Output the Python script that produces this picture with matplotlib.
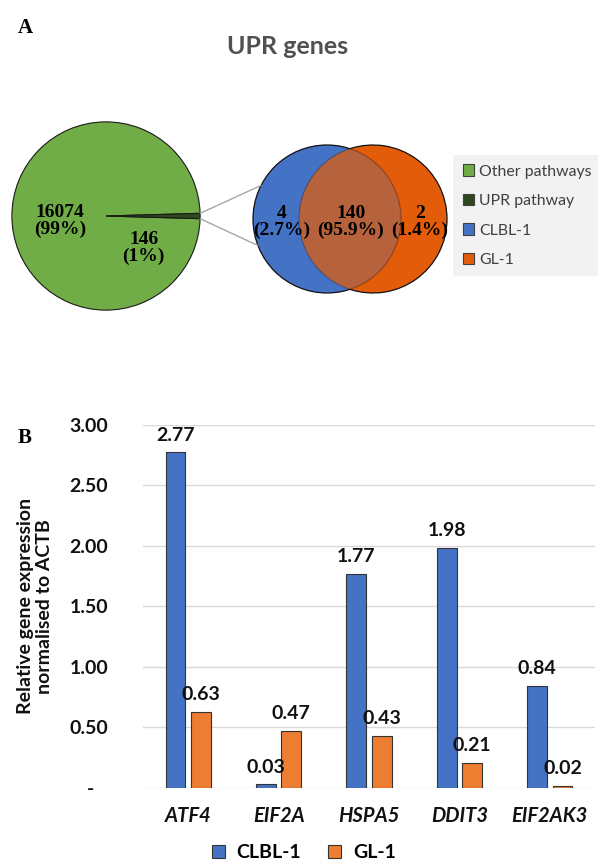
import numpy as np
import matplotlib
matplotlib.use("Agg")
import matplotlib.pyplot as plt
from matplotlib.patches import Circle, Arc, Patch, ConnectionPatch

# ---------------- data ----------------
pie_labels = ["Other pathways", "UPR pathway"]
pie_values = [16074, 146]
pie_pct = ["99%", "1%"]

venn_sets = ["CLBL-1", "GL-1"]
venn_values = [4, 140, 2]          # CLBL-1 only, both, GL-1 only
venn_pct = ["2.7%", "95.9%", "1.4%"]

genes = ["ATF4", "EIF2A", "HSPA5", "DDIT3", "EIF2AK3"]
clbl1 = [2.77, 0.03, 1.77, 1.98, 0.84]
gl1 = [0.63, 0.47, 0.43, 0.21, 0.02]
yticks = [0, 0.5, 1.0, 1.5, 2.0, 2.5, 3.0]
ytick_labels = ["-   ", "0.50", "1.00", "1.50", "2.00", "2.50", "3.00"]

# ---------------- style ----------------
W, H = 598, 861
SANS = ["Lato", "DejaVu Sans"]
SERIF = ["Liberation Serif", "DejaVu Serif"]
C_GREEN = "#70AD47"
C_DKGREEN = "#2B4A1C"
C_BLUE = "#4472C4"
C_ORANGE_V = "#E35C0A"
C_ORANGE_B = "#ED7D31"

fig = plt.figure(figsize=(W / 100, H / 100), dpi=100)
fig.patch.set_facecolor("white")

def fx(px):
    return px / W

def fy(py):
    return 1 - py / H

# panel labels and title
fig.text(fx(25), fy(28), "A", family=SERIF, weight="bold", fontsize=15, ha="center", va="center")
fig.text(fx(25), fy(438), "B", family=SERIF, weight="bold", fontsize=15, ha="center", va="center")
fig.text(fx(288), fy(46), "UPR genes", family=SANS, weight="bold", fontsize=18,
         color="#505050", ha="center", va="center")

# ---------------- pie ----------------
pcx, pcy, pr = 106, 216, 96
ax_pie = fig.add_axes([fx(pcx - pr), fy(pcy + pr), 2 * pr / W, 2 * pr / H])
ax_pie.set_aspect("equal")
half = pie_values[1] / sum(pie_values) * 360 / 2
wedges, _ = ax_pie.pie(pie_values, colors=[C_GREEN, C_DKGREEN], startangle=half,
                       counterclock=True, radius=1,
                       wedgeprops=dict(edgecolor="#1a1a1a", linewidth=0.8))
ax_pie.set_xlim(-1.02, 1.02)
ax_pie.set_ylim(-1.02, 1.02)
ax_pie.axis("off")
ax_pie.text(-0.49, -0.05, f"{pie_values[0]}\n({pie_pct[0]})", family=SERIF, weight="bold",
            fontsize=14, ha="center", va="center", linespacing=1.0)
ax_pie.text(0.40, -0.34, f"{pie_values[1]}\n({pie_pct[1]})", family=SERIF, weight="bold",
            fontsize=14, ha="center", va="center", linespacing=1.0)

# ---------------- venn ----------------
vx0, vx1, vy0, vy1 = 240, 460, 130, 310
ax_v = fig.add_axes([fx(vx0), fy(vy1), (vx1 - vx0) / W, (vy1 - vy0) / H])
ax_v.set_xlim(vx0, vx1)
ax_v.set_ylim(vy1, vy0)
ax_v.axis("off")
r = 74
bcx, ocx, vcy = 327, 373, 219
blue = Circle((bcx, vcy), r, facecolor=C_BLUE, edgecolor="#111111", lw=0.9)
ax_v.add_patch(blue)
orange = Circle((ocx, vcy), r, facecolor=C_ORANGE_V, edgecolor="none")
ax_v.add_patch(orange)
over = Circle((bcx, vcy), r, facecolor=C_BLUE, alpha=0.28, edgecolor="#000000", lw=0.9)
ax_v.add_patch(over)
over.set_clip_path(orange)
d = (ocx - bcx) / 2
ang = np.degrees(np.arctan2(np.sqrt(r ** 2 - d ** 2), -d))
ax_v.add_patch(Arc((ocx, vcy), 2 * r, 2 * r, theta1=-ang, theta2=ang, color="#111111", lw=0.9))
ax_v.add_patch(Arc((ocx, vcy), 2 * r, 2 * r, theta1=ang, theta2=360 - ang,
                   color="#000000", lw=0.9, alpha=0.25))
vlab_x = [282, 351, 420]
for xx, v, p in zip(vlab_x, venn_values, venn_pct):
    ax_v.text(xx, 222, f"{v}\n({p})", family=SERIF, weight="bold", fontsize=14,
              ha="center", va="center", linespacing=1.05)

# connectors
for a_pie, a_v in [(half, 153), (-half, 201)]:
    p1 = (np.cos(np.radians(a_pie)), np.sin(np.radians(a_pie)))
    p2 = (bcx + r * np.cos(np.radians(a_v)), vcy - r * np.sin(np.radians(a_v)))
    con = ConnectionPatch(xyA=p1, coordsA=ax_pie.transData, xyB=p2, coordsB=ax_v.transData,
                          color="#a6a6a6", lw=1.0)
    fig.add_artist(con)

# top legend
handles = [Patch(facecolor=c, edgecolor="#404040", lw=0.8) for c in [C_GREEN, C_DKGREEN, C_BLUE, C_ORANGE_V]]
leg = fig.legend(handles, pie_labels + venn_sets, loc="upper left",
                 bbox_to_anchor=(fx(453), fy(155)), frameon=True, fancybox=False,
                 facecolor="#f2f2f2", edgecolor="none", framealpha=1,
                 prop=dict(family=SANS, size=11.4), labelcolor="#404040",
                 handlelength=0.75, handleheight=0.75, handletextpad=0.3,
                 labelspacing=0.95, borderpad=0.6, borderaxespad=0)

# ---------------- bar chart ----------------
axl, axr, axt, axb = 143, 595, 424.5, 788
ax = fig.add_axes([fx(axl), fy(axb), (axr - axl) / W, (axb - axt) / H])
x = np.arange(len(genes))
bw, off = 0.22, 0.14
b1 = ax.bar(x - off, clbl1, bw, color=C_BLUE, edgecolor="#333333", lw=0.8, label="CLBL-1", zorder=3)
b2 = ax.bar(x + off, gl1, bw, color=C_ORANGE_B, edgecolor="#333333", lw=0.8, label="GL-1", zorder=3)
for bars, vals in [(b1, clbl1), (b2, gl1)]:
    for rect, v in zip(bars, vals):
        ax.annotate(f"{v:.2f}", (rect.get_x() + rect.get_width() / 2, v),
                    xytext=(0, 12.5), textcoords="offset points", ha="center", va="center",
                    family=SANS, weight="bold", fontsize=14, color="#111111", zorder=4)
ax.set_xlim(-0.5, len(genes) - 0.5)
ax.set_ylim(0, 3.0)
ax.set_yticks(yticks)
ax.set_yticklabels(ytick_labels, family=SANS, weight="bold", fontsize=14, color="#111111")
ax.set_xticks(x)
ax.set_xticklabels(genes, family=SANS, weight="bold", style="italic", fontsize=14.5, color="#111111")
ax.tick_params(axis="y", length=0, pad=25)
ax.tick_params(axis="x", length=0, pad=13)
ax.grid(axis="y", color="#d9d9d9", lw=1.0, zorder=0)
for s in ["top", "right", "left", "bottom"]:
    ax.spines[s].set_visible(False)
ax.set_ylabel("Relative gene expression\nnormalised to ACTB", family=SANS, weight="bold",
              fontsize=14, color="#111111", labelpad=12, linespacing=1.1)

fig.legend([Patch(facecolor=C_BLUE, edgecolor="#333333", lw=0.8),
            Patch(facecolor=C_ORANGE_B, edgecolor="#333333", lw=0.8)],
           ["CLBL-1", "GL-1"], loc="center", bbox_to_anchor=(fx(304), fy(853)), ncol=2,
           frameon=False, prop=dict(family=SANS, size=14, weight="bold"),
           handlelength=0.65, handleheight=0.65, handletextpad=0.6, columnspacing=1.4,
           borderaxespad=0)

fig.savefig("out.png", dpi=100)
